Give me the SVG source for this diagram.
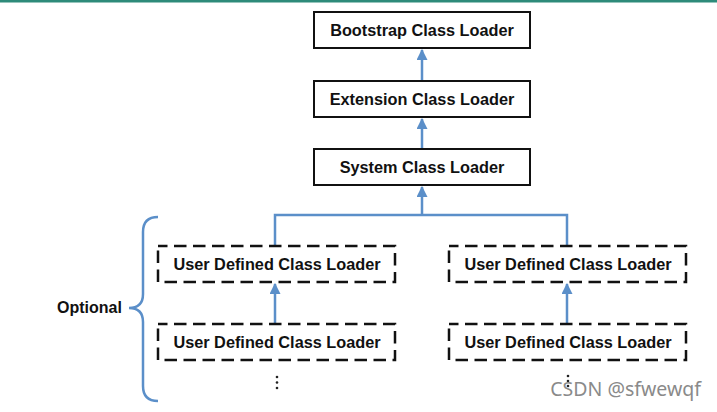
<svg xmlns="http://www.w3.org/2000/svg" width="717" height="412" viewBox="0 0 717 412">
<defs>
<style>
.box{fill:#fff;stroke:#111;stroke-width:2}
.dbox{fill:#fff;stroke:#111;stroke-width:2.5;stroke-dasharray:12.5,6.5;stroke-dashoffset:3}
.lbl{font-family:"Liberation Sans",Arial,sans-serif;font-weight:bold;font-size:16.3px;fill:#111;text-anchor:middle}
.conn{fill:none;stroke:#5b8fc9;stroke-width:2.5}
.dot{fill:#222}
</style>
<marker id="ah" viewBox="0 0 10 10" refX="9" refY="5" markerWidth="4.4" markerHeight="4.4" orient="auto">
<path d="M0,0 L10,5 L0,10 z" fill="#5b8fc9"/>
</marker>
</defs>
<rect x="0" y="0" width="717" height="412" fill="#fff"/>
<rect x="0" y="0" width="717" height="2.5" fill="#2e8b7a"/>
<g id="connectors">
<line class="conn" x1="422" y1="80" x2="422" y2="50" marker-end="url(#ah)"/>
<line class="conn" x1="422" y1="148" x2="422" y2="119" marker-end="url(#ah)"/>
<line class="conn" x1="422" y1="215" x2="422" y2="187" marker-end="url(#ah)"/>
<polyline class="conn" points="275,245 275,215 567,215 567,245"/>
<line class="conn" x1="275" y1="324" x2="275" y2="284" marker-end="url(#ah)"/>
<line class="conn" x1="567" y1="324" x2="567" y2="284" marker-end="url(#ah)"/>
</g>
<g id="bootstrap">
<rect class="box" x="314" y="12" width="216" height="36"/>
<text class="lbl" x="422" y="36">Bootstrap Class Loader</text>
</g>
<g id="extension">
<rect class="box" x="314" y="81" width="216" height="36"/>
<text class="lbl" x="422" y="105">Extension Class Loader</text>
</g>
<g id="system">
<rect class="box" x="314" y="149" width="216" height="36"/>
<text class="lbl" x="422" y="173">System Class Loader</text>
</g>
<g id="user-left-1">
<rect class="dbox" x="158" y="246" width="237" height="36"/>
<text class="lbl" x="277" y="270">User Defined Class Loader</text>
</g>
<g id="user-left-2">
<rect class="dbox" x="158" y="324" width="237" height="36"/>
<text class="lbl" x="277" y="348">User Defined Class Loader</text>
</g>
<g id="user-right-1">
<rect class="dbox" x="449" y="246" width="237" height="36"/>
<text class="lbl" x="568" y="270">User Defined Class Loader</text>
</g>
<g id="user-right-2">
<rect class="dbox" x="449" y="324" width="237" height="36"/>
<text class="lbl" x="568" y="348">User Defined Class Loader</text>
</g>
<g id="optional">
<path class="conn" stroke-width="2.8" d="M158,217 Q143,217 143,232 L143,294 Q143,308 129,308 Q143,308 143,322 L143,386 Q143,401 158,401"/>
<text x="57" y="313" font-family="'Liberation Sans',Arial,sans-serif" font-weight="bold" font-size="16px" fill="#111">Optional</text>
</g>
<g id="ellipsis-left">
<circle class="dot" cx="277" cy="377" r="1.3"/>
<circle class="dot" cx="277" cy="382.5" r="1.3"/>
<circle class="dot" cx="277" cy="388" r="1.3"/>
</g>
<g id="ellipsis-right">
<circle class="dot" cx="568" cy="376" r="1.3"/>
<circle class="dot" cx="568" cy="381" r="1.3"/>
<circle class="dot" cx="568" cy="386" r="1.3"/>
</g>
<text x="701" y="396" text-anchor="end" font-family="'Noto Sans','Open Sans',sans-serif" font-size="19.5px" fill="#8a8a8a">CSDN @sfwewqf</text>
</svg>
